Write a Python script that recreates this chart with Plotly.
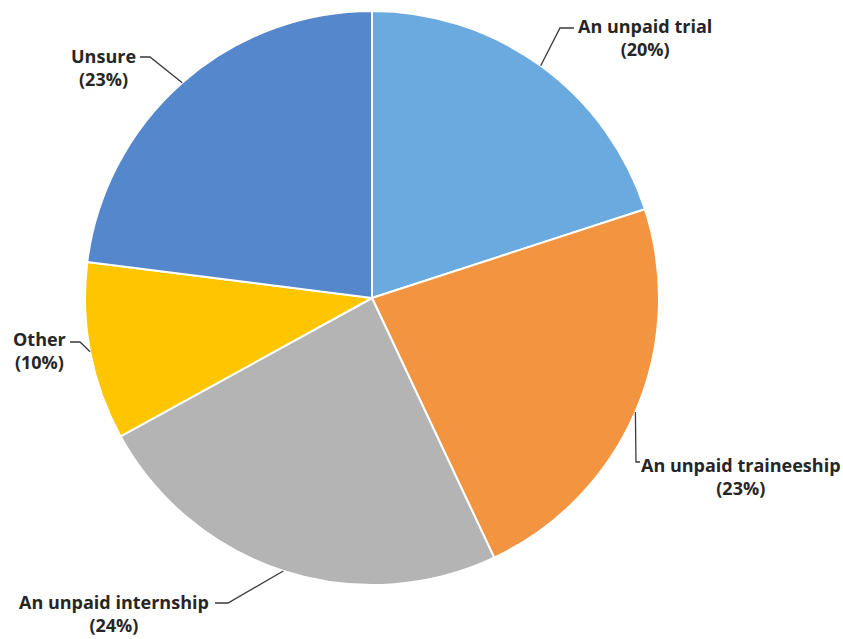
import math
import plotly.graph_objects as go

# Survey answers (share of respondents, %)
categories = ["An unpaid trial", "An unpaid traineeship", "An unpaid internship", "Other", "Unsure"]
shares = [20, 23, 24, 10, 23]
colors = ["#6AAADF", "#F39440", "#B4B4B4", "#FFC600", "#5587CD"]

W, H = 843, 639
CX, CY, R = 372, 298, 287  # pie centre and radius in pixels

# Label block centres and leader-line elbows (pixels) for each slice
label_pos = [(645, 38), (741, 476), (114, 613), (39, 350), (103, 68)]
elbows = [
    [(560, 28), (574, 28)],
    [(636, 462), (640, 462)],
    [(228, 603), (215, 603)],
    [(80, 342), (70, 342)],
    [(150, 57), (140, 57)],
]


def px(x):
    return x / W


def py(y):
    return 1 - y / H


fig = go.Figure(
    go.Pie(
        labels=categories,
        values=shares,
        sort=False,
        direction="clockwise",
        rotation=0,
        textinfo="none",
        marker=dict(colors=colors, line=dict(color="white", width=2)),
        domain=dict(x=[px(CX - R), px(CX + R)], y=[py(CY + R), py(CY - R)]),
        showlegend=False,
    )
)

total = sum(shares)
cum = 0
shapes, annotations = [], []
for i, (cat, v) in enumerate(zip(categories, shares)):
    mid = (cum + v / 2) / total * 2 * math.pi
    cum += v
    ex = CX + R * math.sin(mid)
    ey = CY - R * math.cos(mid)
    pts = [(ex, ey)] + elbows[i]
    path = "M " + " L ".join(f"{px(x):.5f},{py(y):.5f}" for x, y in pts)
    shapes.append(dict(type="path", xref="paper", yref="paper", path=path,
                       line=dict(color="#3A3A3A", width=1.3)))
    lx, ly = label_pos[i]
    annotations.append(dict(
        x=px(lx), y=py(ly), xref="paper", yref="paper",
        text=f"{cat}<br>({v}%)", showarrow=False,
        xanchor="center", yanchor="middle", align="center",
        font=dict(family="Open Sans", size=18, color="#262626", weight=700),
    ))

fig.update_layout(
    width=W, height=H,
    margin=dict(l=0, r=0, t=0, b=0),
    paper_bgcolor="white", plot_bgcolor="white",
    shapes=shapes, annotations=annotations,
)

fig.write_html("out.html")
